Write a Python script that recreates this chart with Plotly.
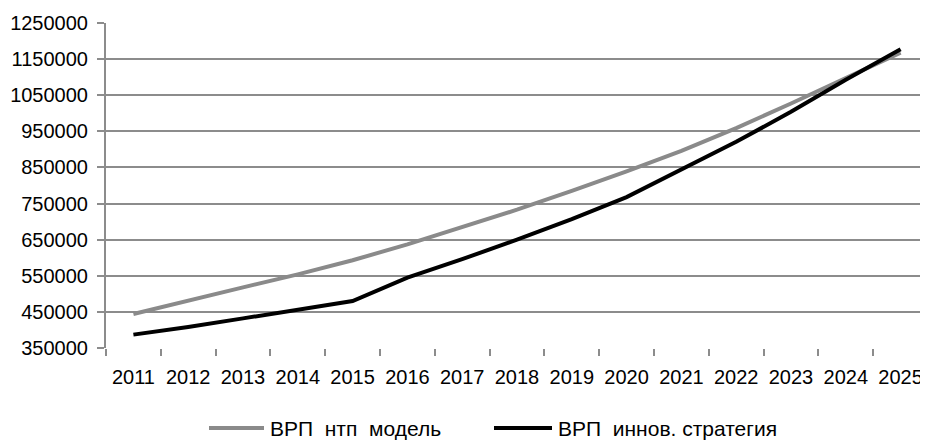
import plotly.graph_objects as go

years = [str(y) for y in range(2011, 2026)]

# ВРП по модели НТП
vrp_ntp = [444000, 482000, 518000, 554000, 593000, 637000, 684000, 733000,
           785000, 839000, 896000, 959000, 1027000, 1099000, 1168000]

# ВРП по инновационной стратегии
vrp_innov = [387000, 408000, 432000, 457000, 480000, 545000, 596000, 650000,
             707000, 768000, 843000, 921000, 1004000, 1093000, 1177000]

y_ticks = list(range(350000, 1250001, 100000))

series = [
    ('ВРП\u00a0\u00a0нтп\u00a0\u00a0модель', vrp_ntp, '#8a8a8a'),
    ('ВРП\u00a0\u00a0иннов.\u00a0стратегия', vrp_innov, '#000000'),
]

fig = go.Figure()
for name, vals, color in series:
    fig.add_trace(go.Scatter(x=years, y=vals, mode='lines', name=name,
                             line=dict(color=color, width=4)))

# page has an 8px body margin, so the figure is 8px smaller than the window
# plot area on screen: x 106..928, y 23..348
plot_l, plot_t, plot_w, plot_h = 106, 23, 822, 325
leg_y = -(428 - (plot_t + plot_h)) / plot_h
leg_items = [(209, 264, 269), (494, 552, 557)]  # line start, line end, text start (screen px)
for (name, vals, color), (x0, x1, xt) in zip(series, leg_items):
    fig.add_shape(type='line', xref='paper', yref='paper',
                  x0=(x0 - plot_l) / plot_w, x1=(x1 - plot_l) / plot_w, y0=leg_y, y1=leg_y,
                  line=dict(color=color, width=4))
    fig.add_annotation(text=name, xref='paper', yref='paper',
                       x=(xt - plot_l) / plot_w, y=leg_y, xanchor='left', yanchor='middle',
                       showarrow=False, borderpad=0, font=dict(size=21))

fig.update_layout(
    width=920, height=434,
    margin=dict(l=plot_l - 8, r=0, t=plot_t - 8, b=94),
    paper_bgcolor='white', plot_bgcolor='white',
    font=dict(family='Liberation Sans, Arial, sans-serif', size=20, color='black'),
    showlegend=False,
    xaxis=dict(
        type='category', range=[-0.5, 14.5], automargin=False,
        showgrid=False, showline=False,
        ticks='outside', tickson='boundaries', ticklen=7, tickwidth=2,
        tickcolor='#8c8c8c', ticklabelstandoff=15,
    ),
    yaxis=dict(
        range=[350000, 1250000], tickvals=y_ticks, ticktext=[str(v) for v in y_ticks],
        automargin=False,
        showgrid=True, gridcolor='#8c8c8c', gridwidth=2,
        showline=True, linecolor='#8c8c8c', linewidth=2,
        ticks='outside', ticklen=7, tickwidth=2, tickcolor='#8c8c8c',
        ticklabelstandoff=5, zeroline=False,
    ),
)

fig.write_html("out.html")
